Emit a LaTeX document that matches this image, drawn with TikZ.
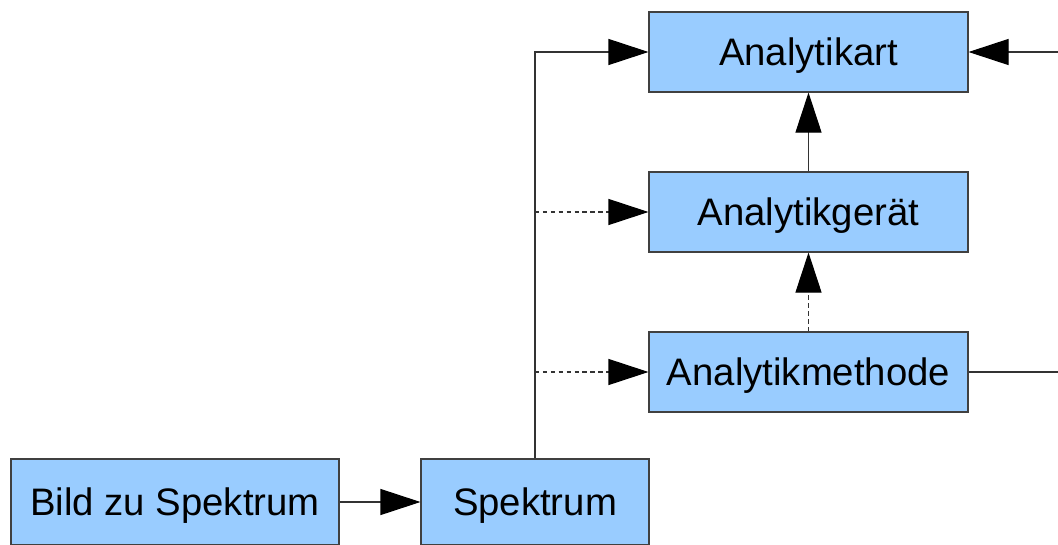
\documentclass[tikz,border=0pt]{standalone}
\usepackage{fontspec}
\setmainfont{Liberation Sans}
\usepackage{tikz}
\usetikzlibrary{positioning, arrows.meta}
\definecolor{boxblue}{RGB}{153,204,255}

\begin{document}
\begin{tikzpicture}[
  ebox/.style={draw=black!75, fill=boxblue, line width=0.6pt, align=center,
               minimum width=6.38cm, minimum height=1.6cm, inner sep=0pt,
               text depth=0pt, font=\fontsize{21.8}{26}\selectfont},
  conn/.style={black!80, line width=0.6pt,
               -{Triangle[length=0.8cm, width=0.52cm, color=black]}},
  dconn/.style={conn, dash pattern=on 2.5pt off 2pt},
  plain/.style={black!80, line width=0.6pt},
]
  \useasboundingbox (0,0) rectangle (21.16,-10.88);
  \clip (0,0) rectangle (21.16,-10.88);

  % Analytik column
  \node[ebox] (art) at (16.17,-1.04) {Analytikart};
  \node[ebox] (geraet) at (16.17,-4.24) {Analytikgerät};
  \node[ebox] (meth) at (16.17,-7.44) {Analytikmethode};

  % Bottom row
  \node[ebox, minimum width=6.56cm, minimum height=1.72cm] (bild) at (3.5,-10.04) {Bild zu Spektrum};
  \node[ebox, minimum width=4.56cm, minimum height=1.72cm] (spek) at (10.7,-10.04) {Spektrum};

  % Connectors
  \draw[conn] (bild.east) -- (spek.west);
  \draw[conn] (spek.north) |- (art.west);
  \draw[dconn] (spek.north |- geraet.west) -- (geraet.west);
  \draw[dconn] (spek.north |- meth.west) -- (meth.west);
  \draw[conn] (geraet.north) -- (art.south);
  \draw[dconn] (meth.north) -- (geraet.south);

  % Return path on the right
  \coordinate (rt) at (21.8,-4.24);
  \draw[plain] (meth.east) -| (rt);
  \draw[conn] (rt) |- (art.east);

\end{tikzpicture}
\end{document}
